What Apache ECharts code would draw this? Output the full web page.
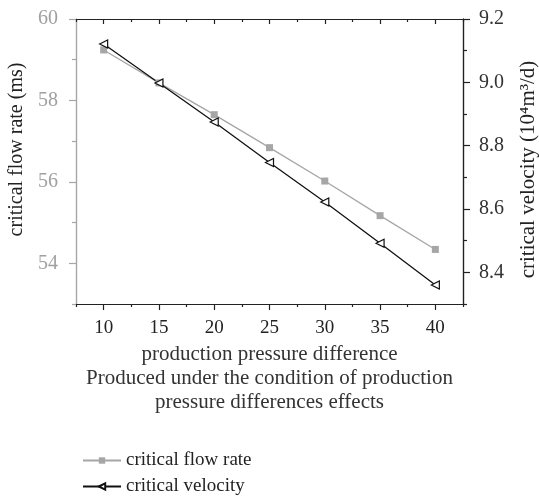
<!DOCTYPE html>
<html>
<head>
<meta charset="utf-8">
<script src="https://cdn.jsdelivr.net/npm/echarts@6/dist/echarts.min.js"></script>
<style>
  html, body { margin: 0; padding: 0; background: #fff; }
  #main { width: 539px; height: 496px; }
</style>
</head>
<body>
<div id="main"></div>
<script>
// data
var pressureDiff = [10, 15, 20, 25, 30, 35, 40];
var flowRate = [59.24, 58.43, 57.65, 56.84, 56.02, 55.17, 54.34];
var velocity = [9.121, 8.998, 8.875, 8.747, 8.622, 8.492, 8.360];

var xMajor = [10, 15, 20, 25, 30, 35, 40];
var xMinor = [7.5, 12.5, 17.5, 22.5, 27.5, 32.5, 37.5, 42.5];
var leftMajor = [54, 56, 58, 60];
var leftMinor = [53, 55, 57, 59];
var rightMajor = [8.4, 8.6, 8.8, 9.0, 9.2];
var rightMinor = [8.3, 8.5, 8.7, 8.9, 9.1];

var FONT = 'Liberation Serif';
var GREY = '#a6a6a6';

function pairs(xs, ys) {
  return xs.map(function (x, i) { return [x, ys[i]]; });
}

// one axis per tick set (major / minor), all sharing the same scale
function xAx(pos, ticks, len, inside, extra) {
  var a = {
    type: 'value', position: pos, min: 7.5, max: 42.5, offset: 0,
    axisLine: { show: true, onZero: false, lineStyle: { color: '#222', width: 1.2 } },
    axisTick: { show: true, inside: inside, length: len, customValues: ticks, lineStyle: { color: '#222', width: 1.2 } },
    axisLabel: { show: false },
    splitLine: { show: false }
  };
  return Object.assign(a, extra || {});
}

function yAx(pos, min, max, ticks, len, color, extra) {
  var a = {
    type: 'value', position: pos, min: min, max: max, offset: 0,
    axisLine: { show: true, lineStyle: { color: color, width: 1.2 } },
    axisTick: { show: true, length: len, customValues: ticks, lineStyle: { color: color, width: 1.2 } },
    axisLabel: { show: false },
    splitLine: { show: false }
  };
  return Object.assign(a, extra || {});
}

var option = {
  animation: false,
  backgroundColor: '#fff',
  textStyle: { fontFamily: FONT },
  grid: { left: 76, right: 76, top: 19, bottom: 192, containLabel: false, outerBoundsMode: 'none' },
  legend: {
    orient: 'vertical',
    left: 77,
    top: 446,
    height: 50,
    itemWidth: 38,
    itemHeight: 8,
    itemGap: 7,
    textStyle: { fontFamily: FONT, fontSize: 19, lineHeight: 19, color: '#222' },
    data: ['critical flow rate', 'critical velocity']
  },
  xAxis: [
    xAx('bottom', xMajor, 6, false, {
      axisLabel: { show: true, customValues: xMajor, fontFamily: FONT, fontSize: 19, color: '#222', margin: 15 },
      name: 'production pressure difference\nProduced under the condition of production\npressure differences effects',
      nameLocation: 'middle',
      nameGap: 38,
      nameTextStyle: { fontFamily: FONT, fontSize: 21, color: '#333', lineHeight: 24, align: 'center' }
    }),
    xAx('bottom', xMinor, 3, false),
    xAx('top', xMajor, 5, true),
    xAx('top', xMinor, 3, true)
  ],
  yAxis: [
    yAx('left', 53, 60, leftMajor, 7, GREY, {
      axisLabel: { show: true, customValues: leftMajor, fontFamily: FONT, fontSize: 20, color: '#a0a0a0', margin: 18 },
      name: 'critical flow rate (ms)',
      nameLocation: 'middle',
      nameRotate: 90,
      nameGap: 44,
      nameTextStyle: { fontFamily: FONT, fontSize: 20, color: '#222', padding: [0, 0, 0, 24] }
    }),
    yAx('left', 53, 60, leftMinor, 4, GREY),
    yAx('right', 8.3, 9.2, rightMajor, 7, '#222', {
      axisLabel: {
        show: true, customValues: rightMajor, fontFamily: FONT, fontSize: 20, color: '#333', margin: 16,
        formatter: function (v) { return v.toFixed(1); }
      },
      name: 'critical velocity (10\u2074m\u00b3/d)',
      nameLocation: 'middle',
      nameRotate: 90,
      nameGap: 55,
      nameTextStyle: { fontFamily: FONT, fontSize: 21, color: '#222', padding: [0, 16, 0, 0] }
    }),
    yAx('right', 8.3, 9.2, rightMinor, 4, '#222')
  ],
  series: [
    {
      name: 'critical flow rate',
      type: 'line',
      xAxisIndex: 0,
      yAxisIndex: 0,
      data: pairs(pressureDiff, flowRate),
      symbol: 'rect',
      symbolSize: 7,
      lineStyle: { color: GREY, width: 1.3 },
      itemStyle: { color: GREY, borderWidth: 0 }
    },
    {
      name: 'critical velocity',
      type: 'line',
      xAxisIndex: 0,
      yAxisIndex: 2,
      data: pairs(pressureDiff, velocity),
      symbol: 'triangle',
      symbolRotate: 90,
      symbolSize: 8,
      z: 3,
      lineStyle: { color: '#111', width: 1.3 },
      itemStyle: { color: '#fff', borderColor: '#111', borderWidth: 1.2 }
    }
  ]
};

var chart = echarts.init(document.getElementById('main'));
chart.setOption(option);
</script>
</body>
</html>
